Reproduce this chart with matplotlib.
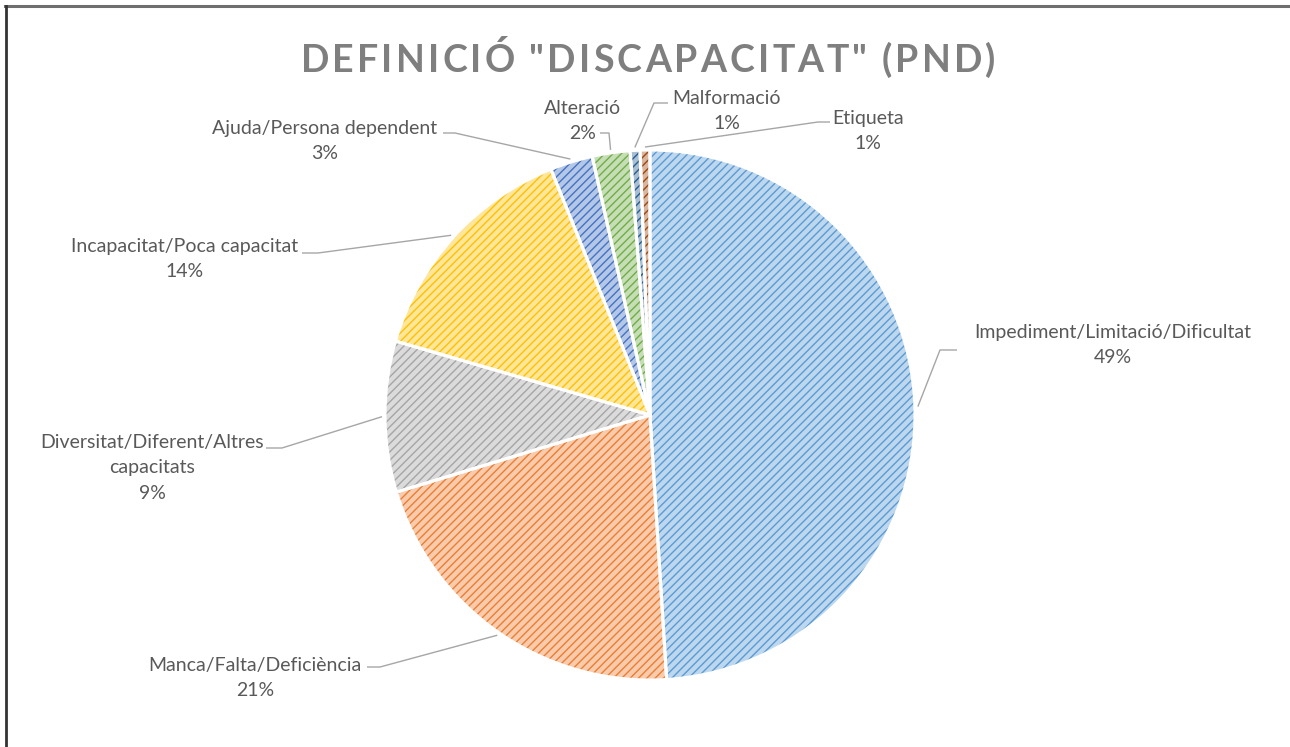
import matplotlib
matplotlib.use('Agg')
import matplotlib.pyplot as plt
import numpy as np

# data (share in %)
categories = ['Impediment/Limitació/Dificultat', 'Manca/Falta/Deficiència',
              'Diversitat/Diferent/Altres\ncapacitats', 'Incapacitat/Poca capacitat',
              'Ajuda/Persona dependent', 'Alteració', 'Malformació', 'Etiqueta']
values = [49.0, 21.3, 9.2, 14.4, 2.6, 2.3, 0.6, 0.6]
colors = ['#5B9BD5', '#ED7D31', '#A5A5A5', '#FFC000',
          '#4472C4', '#70AD47', '#255E91', '#9E480E']
title = 'DEFINICIÓ "DISCAPACITAT" (PND)'

# layout (pixels, measured from the top-left of the image)
W, H = 1290, 747
cx, cy, R = 650, 415, 265
label_pos = [(1113, 345), (255, 678), (152, 468), (185, 259),
             (325, 141), (583, 121), (727, 111), (868, 131)]
line_end = [(957, 350), (367, 667), (266, 448), (302, 253),
            (443, 133), (600, 133), (668, 103), (830, 122)]
line_elbow = [(940, 350), (380, 667), (282, 448), (318, 253),
              (455, 133), (609, 133), (654, 103), (818, 122)]

plt.rcParams['hatch.linewidth'] = 1.0

def lighten(c, f):
    rgb = np.array(matplotlib.colors.to_rgb(c))
    return tuple(rgb + (1 - rgb) * f)

fig = plt.figure(figsize=(W / 100, H / 100), dpi=100)
ax = fig.add_axes([0, 0, 1, 1])

# hatched fill
wedges, _ = ax.pie(values, colors=[lighten(c, 0.6) for c in colors],
                   startangle=90, counterclock=False,
                   center=(cx, H - cy), radius=R,
                   wedgeprops=dict(linewidth=0))
for w, c in zip(wedges, colors):
    w.set_edgecolor(c)
    w.set_hatch('////')
    w.set_linewidth(0)
# white separators
ax.pie(values, colors=['none'] * len(values), startangle=90, counterclock=False,
       center=(cx, H - cy), radius=R,
       wedgeprops=dict(linewidth=2.2, edgecolor='white', fill=False))

ax.set_xlim(0, W)
ax.set_ylim(0, H)
ax.set_aspect('equal')
ax.axis('off')

total = sum(values)
for w, name, v, (tx, ty), (ex, ey), (bx, by) in zip(
        wedges, categories, values, label_pos, line_end, line_elbow):
    ang = np.deg2rad((w.theta1 + w.theta2) / 2)
    px = cx + (R + 3) * np.cos(ang)
    py = (H - cy) + (R + 3) * np.sin(ang)
    ax.plot([px, bx, ex], [py, H - by, H - ey], color='#A6A6A6', lw=1.0,
            solid_capstyle='butt')
    pct = round(v / total * 100)
    ax.text(tx, H - ty, f'{name}\n{pct}%', ha='center', va='center',
            fontsize=14, family='Lato', color='#595959', linespacing=1.62)

# title with letter spacing, drawn char by char
renderer = fig.canvas.get_renderer()
tprops = dict(fontsize=27, family=['Liberation Sans Narrow', 'Lato'],
              weight='bold', color='#7F7F7F', va='baseline', ha='left')
title_w, title_cx, title_base = 695, 648, 72
chars = []
widths = []
for ch in title:
    t = fig.text(0, 0, ch, **tprops)
    if ch == ' ':
        wdt = 8.0
    else:
        wdt = t.get_window_extent(renderer).width
    chars.append(t)
    widths.append(wdt)
gap = (title_w - sum(widths)) / (len(title) - 1)
x = title_cx - title_w / 2
for t, wdt in zip(chars, widths):
    t.set_position((x / W, 1 - title_base / H))
    x += wdt + gap

# frame lines (top and left)
ax.plot([5, W], [H - 5.5, H - 5.5], color='#6E6E6E', lw=2.2, clip_on=False)
ax.plot([6, 6], [0, H - 5.5], color='#333333', lw=2.0, clip_on=False)

fig.savefig('out.png', dpi=100)
